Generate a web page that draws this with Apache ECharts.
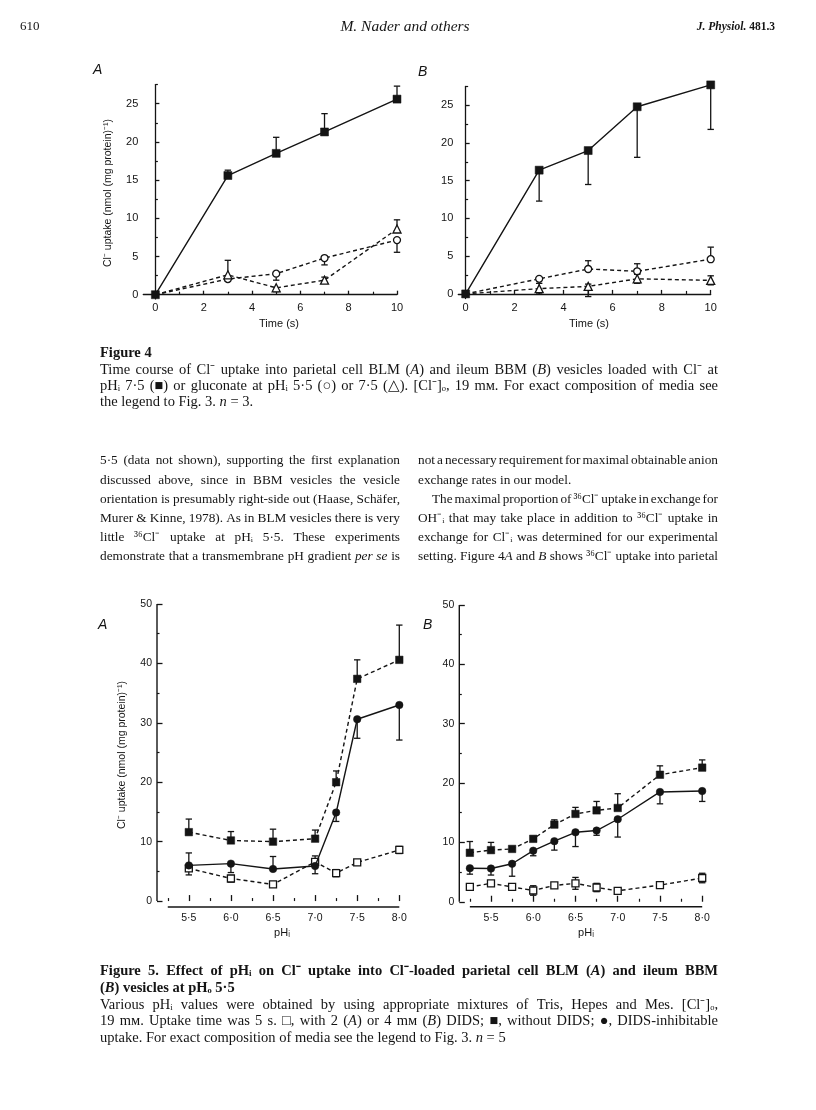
<!DOCTYPE html>
<html><head><meta charset="utf-8">
<script src="https://cdn.jsdelivr.net/npm/echarts@6.0.0/dist/echarts.min.js"></script>
<style>html,body{margin:0;padding:0;background:#fff}#c{width:816px;height:1110px}</style>
</head><body><div id="c"></div>
<script>
// ---------- DATA ----------
const time4 = [0, 3, 5, 7, 10];
// Figure 4A
const sq4A = [0, 15.6, 18.5, 21.3, 25.6];
const sq4AUp = [0, 0.7, 2.1, 2.4, 1.7];
const sq4ADn = [0, 0, 0, 0, 0];
const ci4A = [0, 2.05, 2.75, 4.8, 7.15];
const ci4AUp = [0, 0, 0, 0, 0];
const ci4ADn = [0, 0.3, 0.85, 0.9, 1.6];
const tr4A = [0, 2.6, 0.9, 1.9, 8.6];
const tr4AUp = [0, 1.9, 0, 0.4, 1.2];
const tr4ADn = [0, 0, 0.5, 0.4, 0];
// Figure 4B
const sq4B = [0, 16.4, 19.0, 24.8, 27.7];
const sq4BUp = [0, 0, 0, 0, 0];
const sq4BDn = [0, 4.1, 4.5, 6.7, 5.9];
const ci4B = [0, 2.0, 3.3, 3.0, 4.6];
const ci4BUp = [0, 0, 1.1, 1.0, 1.6];
const ci4BDn = [0, 0, 0, 0.3, 0];
const tr4B = [0, 0.7, 1.0, 2.0, 1.8];
const tr4BUp = [0, 0.7, 0.3, 0.6, 0.6];
const tr4BDn = [0, 0.7, 1.35, 0.6, 0.6];
// Figure 5A
const pH5A = [5.5, 6.0, 6.5, 7.0, 7.25, 7.5, 8.0];
const no5A = [11.6, 10.2, 10.0, 10.5, 20.0, 37.4, 40.6];
const no5AUp = [2.2, 1.5, 2.1, 1.45, 1.9, 3.2, 5.85];
const no5ADn = [0, 0, 0, 0, 0, 0, 0];
const in5A = [6.0, 6.3, 5.4, 5.9, 14.9, 30.6, 33.0];
const in5AUp = [2.1, 0, 2.1, 0, 0, 0, 0];
const in5ADn = [0, 1.5, 0, 1.3, 1.5, 3.2, 5.9];
const di5A = [5.5, 3.8, 2.8, 6.6, 4.7, 6.5, 8.6];
const di5AUp = [0, 0.5, 0, 1.0, 0.6, 0.3, 0.6];
const di5ADn = [1.1, 0.6, 0.3, 0, 0.6, 0.3, 0.6];
// Figure 5B
const pH5B = [5.25, 5.5, 5.75, 6.0, 6.25, 6.5, 6.75, 7.0, 7.5, 8.0];
const no5B = [8.25, 8.7, 8.9, 10.6, 13.0, 14.8, 15.4, 15.8, 21.4, 22.6];
const no5BUp = [1.9, 1.3, 0, 0, 0.8, 1.1, 1.5, 2.4, 1.5, 1.3];
const no5BDn = [0, 0, 0, 0, 0, 0, 0, 0, 0, 0];
const in5B = [5.65, 5.6, 6.4, 8.6, 10.2, 11.7, 12.0, 13.9, 18.5, 18.65];
const in5BUp = [0, 0, 0, 0, 0, 0, 0, 0, 0, 0];
const in5BDn = [1.0, 1.1, 2.1, 0.85, 1.5, 2.4, 0.8, 3.0, 2.0, 1.75];
const di5B = [2.5, 3.1, 2.5, 1.9, 2.75, 3.1, 2.4, 1.85, 2.8, 4.0];
const di5BErr = [0.3, 0.3, 0.3, 0.8, 0.4, 1.0, 0.7, 0.3, 0.4, 0.8];
// Tick labels
const t4XMajor = [0, 2, 4, 6, 8, 10];
const t4XMinor = [1, 3, 5, 7, 9];
const t4YMajor = [0, 5, 10, 15, 20, 25];
const t4YMinor = [2.5, 7.5, 12.5, 17.5, 22.5, 27.5];
const t5XMajor = [5.5, 6.0, 6.5, 7.0, 7.5, 8.0];
const t5XMinor = [5.25, 5.75, 6.25, 6.75, 7.25, 7.75];
const t5YMajor = [0, 10, 20, 30, 40, 50];
const t5YMinor = [5, 15, 25, 35, 45];

// ---------- LAYOUT ----------
const INK = '#141414';
const grids = [
  {left: 143.3, top: 84.6, width: 253.7, height: 214.3},
  {left: 458.3, top: 86.4, width: 252.4, height: 212.2},
  {left: 157, top: 604, width: 242.3, height: 303},
  {left: 459.3, top: 605, width: 242.9, height: 301.8}
];
const ranges = [
  {x: [-0.5, 10], y: [-0.55, 27.5]},
  {x: [-0.3, 10], y: [-0.62, 27.5]},
  {x: [5.122, 8.0], y: [-1.0, 50]},
  {x: [5.125, 8.0], y: [-0.85, 50]}
];
const sansF = '"Liberation Sans", Arial, sans-serif';
const serifF = '"Liberation Serif", "Times New Roman", serif';

const xAxes = [], yAxes = [];
function addAxes(gi, xMaj, xMin, yMaj, yMin, fig5) {
  const r = ranges[gi];
  const lab = fig5 ? (v => (+v).toFixed(1).replace('.', '·')) : (v => String(+v));
  const line = {show: !fig5, lineStyle: {color: INK, width: 1.3}};
  const fs = fig5 ? 10.5 : 11;
  xAxes.push({gridIndex: gi, type: 'value', min: r.x[0], max: r.x[1], position: 'bottom',
    axisLine: line, splitLine: {show: false},
    axisTick: {show: true, inside: true, length: fig5 ? 6 : 4, customValues: xMaj, lineStyle: {color: INK, width: 1.3}},
    axisLabel: {customValues: xMaj, formatter: lab,
      fontFamily: sansF, fontSize: fs, color: INK, margin: fig5 ? 6 : 4}});
  xAxes.push({gridIndex: gi, type: 'value', min: r.x[0], max: r.x[1], position: 'bottom',
    axisLine: {show: false}, splitLine: {show: false}, axisLabel: {show: false},
    axisTick: {show: true, inside: true, length: 3, customValues: xMin, lineStyle: {color: INK, width: 1.2}}});
  yAxes.push({gridIndex: gi, type: 'value', min: r.y[0], max: r.y[1], position: 'left',
    axisLine: line, splitLine: {show: false},
    axisTick: {show: true, inside: true, length: fig5 ? 5.5 : 4, customValues: yMaj, lineStyle: {color: INK, width: 1.3}},
    axisLabel: {customValues: yMaj, formatter: v => String(+v), fontFamily: sansF, fontSize: fs, color: INK, margin: 5}});
  yAxes.push({gridIndex: gi, type: 'value', min: r.y[0], max: r.y[1], position: 'left',
    axisLine: {show: false}, splitLine: {show: false}, axisLabel: {show: false},
    axisTick: {show: true, inside: true, length: 2.5, customValues: yMin, lineStyle: {color: INK, width: 1.2}}});
}
addAxes(0, t4XMajor, t4XMinor, t4YMajor, t4YMinor, false);
addAxes(1, t4XMajor, t4XMinor, t4YMajor, t4YMinor, false);
addAxes(2, t5XMajor, t5XMinor, t5YMajor, t5YMinor, true);
addAxes(3, t5XMajor, t5XMinor, t5YMajor, t5YMinor, true);

const series = [];
function pts(xs, ys, hideFirst) {
  return xs.map((x, i) => (hideFirst && i === 0) ? {value: [x, ys[i]], symbol: 'none'} : [x, ys[i]]);
}
function errRender(params, api) {
  const x = api.value(0), lo = api.value(1), hi = api.value(2), y = api.value(3);
  const a = api.coord([x, lo]), b = api.coord([x, hi]);
  const w = 3.2, st = {stroke: INK, lineWidth: 1.3};
  const ch = [{type: 'line', shape: {x1: a[0], y1: a[1], x2: b[0], y2: b[1]}, style: st}];
  if (hi > y) ch.push({type: 'line', shape: {x1: b[0] - w, y1: b[1], x2: b[0] + w, y2: b[1]}, style: st});
  if (lo < y) ch.push({type: 'line', shape: {x1: a[0] - w, y1: a[1], x2: a[0] + w, y2: a[1]}, style: st});
  return {type: 'group', children: ch};
}
function addErr(gi, xs, ys, up, dn) {
  const data = [];
  xs.forEach((x, i) => { if (up[i] > 0 || dn[i] > 0) data.push([x, ys[i] - dn[i], ys[i] + up[i], ys[i]]); });
  series.push({type: 'custom', xAxisIndex: 2 * gi, yAxisIndex: 2 * gi, renderItem: errRender,
    data: data, encode: {x: 0, y: [1, 2]}, clip: false, silent: true, z: 2});
}
function addLine(gi, xs, ys, sym, size, filled, dashed, hideFirst, z) {
  series.push({type: 'line', xAxisIndex: 2 * gi, yAxisIndex: 2 * gi, data: pts(xs, ys, hideFirst),
    symbol: sym, symbolSize: size, showAllSymbol: true, clip: false, silent: true, z: z || 3,
    itemStyle: filled ? {color: INK, borderColor: INK, borderWidth: 0.5} : {color: '#fff', borderColor: INK, borderWidth: 1.3},
    lineStyle: {color: INK, width: 1.4, type: dashed ? [4, 3] : 'solid'}});
}
function addAxisLine(gi, pairs) {
  series.push({type: 'line', xAxisIndex: 2 * gi, yAxisIndex: 2 * gi, data: pairs, symbol: 'none', clip: false,
    silent: true, z: 1, lineStyle: {color: INK, width: 1.4}});
}
// Fig 4A
addErr(0, time4, sq4A, sq4AUp, sq4ADn);
addErr(0, time4, ci4A, ci4AUp, ci4ADn);
addErr(0, time4, tr4A, tr4AUp, tr4ADn);
addLine(0, time4, ci4A, 'circle', 7, false, true, true);
addLine(0, time4, tr4A, 'triangle', 8, false, true, true);
addLine(0, time4, sq4A, 'rect', 8, true, false, false, 4);
// Fig 4B
addErr(1, time4, sq4B, sq4BUp, sq4BDn);
addErr(1, time4, ci4B, ci4BUp, ci4BDn);
addErr(1, time4, tr4B, tr4BUp, tr4BDn);
addLine(1, time4, ci4B, 'circle', 7, false, true, true);
addLine(1, time4, tr4B, 'triangle', 8, false, true, true);
addLine(1, time4, sq4B, 'rect', 8, true, false, false, 4);
// Fig 5A
const r5A = ranges[2], r5B = ranges[3];
addAxisLine(2, [[t5XMinor[0], r5A.y[0]], [t5XMajor[t5XMajor.length - 1], r5A.y[0]]]);
addAxisLine(2, [[r5A.x[0], t5YMajor[0]], [r5A.x[0], t5YMajor[t5YMajor.length - 1]]]);
addErr(2, pH5A, no5A, no5AUp, no5ADn);
addErr(2, pH5A, in5A, in5AUp, in5ADn);
addErr(2, pH5A, di5A, di5AUp, di5ADn);
addLine(2, pH5A, di5A, 'rect', 7, false, true, false);
addLine(2, pH5A, no5A, 'rect', 7.5, true, true, false);
addLine(2, pH5A, in5A, 'circle', 7.5, true, false, false, 4);
// Fig 5B
addAxisLine(3, [[t5XMinor[0], r5B.y[0]], [t5XMajor[t5XMajor.length - 1], r5B.y[0]]]);
addAxisLine(3, [[r5B.x[0], t5YMajor[0]], [r5B.x[0], t5YMajor[t5YMajor.length - 1]]]);
addErr(3, pH5B, no5B, no5BUp, no5BDn);
addErr(3, pH5B, in5B, in5BUp, in5BDn);
addErr(3, pH5B, di5B, di5BErr, di5BErr);
addLine(3, pH5B, di5B, 'rect', 7, false, true, false);
addLine(3, pH5B, no5B, 'rect', 7.5, true, true, false);
addLine(3, pH5B, in5B, 'circle', 7.5, true, false, false, 4);

// ---------- TEXT ----------
const ctx = document.createElement('canvas').getContext('2d');
function fontStr(st) {
  return (st.fontStyle || 'normal') + ' ' + (st.fontWeight || 'normal') + ' ' + st.fontSize + 'px ' + st.fontFamily;
}
function richFor(base) {
  return {
    i: {fontStyle: 'italic', fontWeight: base.fontWeight || 'normal', fontSize: base.fontSize, fontFamily: base.fontFamily, fill: INK},
    b: {fontStyle: base.fontStyle || 'normal', fontWeight: 'bold', fontSize: base.fontSize, fontFamily: base.fontFamily, fill: INK}
  };
}
function measureWord(word, base) {
  const rich = richFor(base);
  let w = 0; const re = /\{(\w+)\|([^}]*)\}|([^{]+)/g; let m;
  while ((m = re.exec(word))) {
    if (m[3] !== undefined) { ctx.font = fontStr(base); w += ctx.measureText(m[3]).width; }
    else { ctx.font = fontStr(Object.assign({}, base, rich[m[1]])); w += ctx.measureText(m[2]).width; }
  }
  return w;
}
const graphics = [];
function textEl(str, x, y, base, extra) {
  const el = Object.assign({type: 'text', x: x, y: y, silent: true,
    style: Object.assign({text: str, fill: INK, align: 'left', verticalAlign: 'middle', rich: richFor(base)}, base)}, extra || {});
  graphics.push(el);
  return el;
}
// justified line: words spread from x0 to x1
function justLine(str, x0, x1, y, base, justify) {
  const words = str.split(' ');
  ctx.font = fontStr(base);
  const space = ctx.measureText(' ').width;
  const ws = words.map(w => measureWord(w, base));
  const sum = ws.reduce((a, b) => a + b, 0);
  const target = x1 - x0;
  let gap = space, sx = 1;
  if (justify && words.length > 1) gap = (target - sum) / (words.length - 1);
  if (gap < space * 0.6) { gap = space * 0.6; sx = Math.min(1, target / (sum + gap * (words.length - 1))); }
  let x = x0;
  words.forEach((w, i) => {
    textEl(w, x, y, base, sx < 1 ? {scaleX: sx} : null);
    x += (ws[i] + gap) * sx;
  });
}
const body = {fontFamily: serifF, fontSize: 13.3};
const cap = {fontFamily: serifF, fontSize: 14.5};
const capB = {fontFamily: serifF, fontSize: 14.5, fontWeight: 'bold'};

// header
textEl('610', 20, 27, {fontFamily: serifF, fontSize: 13});
textEl('M. Nader and others', 405, 27, {fontFamily: serifF, fontSize: 15.5, fontStyle: 'italic'}, null).style.align = 'center';
textEl('{i|J. Physiol.} 481.3', 775, 27, {fontFamily: serifF, fontSize: 11.5, fontWeight: 'bold'}).style.align = 'right';

// panel letters
const letter = {fontFamily: sansF, fontSize: 14, fontStyle: 'italic'};
textEl('A', 93, 70, letter);
textEl('B', 418, 72, letter);
textEl('A', 98, 625, letter);
textEl('B', 423, 625, letter);

// axis titles
const axT = {fontFamily: sansF, fontSize: 11};
textEl('Time (s)', 279, 324, axT).style.align = 'center';
textEl('Time (s)', 589, 324, axT).style.align = 'center';
textEl('pHᵢ', 282, 933, axT).style.align = 'center';
textEl('pHᵢ', 586, 933, axT).style.align = 'center';
const yt1 = textEl('Cl⁻ uptake (nmol (mg protein)⁻¹)', 108, 193, {fontFamily: sansF, fontSize: 10.5}, {rotation: Math.PI / 2});
yt1.style.align = 'center';
const yt2 = textEl('Cl⁻ uptake (nmol (mg protein)⁻¹)', 122, 755, {fontFamily: sansF, fontSize: 10.5}, {rotation: Math.PI / 2});
yt2.style.align = 'center';

// Figure 4 caption
const capL = 100, capR = 718;
textEl('Figure 4', capL, 353, capB);
justLine('Time course of Cl⁻ uptake into parietal cell BLM ({i|A}) and ileum BBM ({i|B}) vesicles loaded with Cl⁻ at', capL, capR, 370, cap, true);
justLine('pHᵢ 7·5 (■) or gluconate at pHᵢ 5·5 (○) or 7·5 (△). [Cl⁻]ₒ, 19 mᴍ. For exact composition of media see', capL, capR, 386, cap, true);
justLine('the legend to Fig. 3. {i|n} = 3.', capL, capR, 402, cap, false);

// body text columns
const leftCol = [
  '5·5 (data not shown), supporting the first explanation',
  'discussed above, since in BBM vesicles the vesicle',
  'orientation is presumably right-side out (Haase, Schäfer,',
  'Murer & Kinne, 1978). As in BLM vesicles there is very',
  'little ³⁶Cl⁻ uptake at pHᵢ 5·5. These experiments',
  'demonstrate that a transmembrane pH gradient {i|per} {i|se} is'
];
const rightCol = [
  'not a necessary requirement for maximal obtainable anion',
  'exchange rates in our model.',
  'The maximal proportion of ³⁶Cl⁻ uptake in exchange for',
  'OH⁻ᵢ that may take place in addition to ³⁶Cl⁻ uptake in',
  'exchange for Cl⁻ᵢ was determined for our experimental',
  'setting. Figure 4{i|A} and {i|B} shows ³⁶Cl⁻ uptake into parietal'
];
const lineY = [461, 480.5, 500, 519, 538, 557];
leftCol.forEach((s, i) => justLine(s, 100, 400, lineY[i], body, true));
rightCol.forEach((s, i) => justLine(s, i === 2 ? 432 : 418, 718, lineY[i], body, i !== 1));

// Figure 5 caption
justLine('Figure 5. Effect of pHᵢ on Cl⁻ uptake into Cl⁻-loaded parietal cell BLM ({i|A}) and ileum BBM', capL, capR, 971, capB, true);
justLine('({i|B}) vesicles at pHₒ 5·5', capL, capR, 988, capB, false);
justLine('Various pHᵢ values were obtained by using appropriate mixtures of Tris, Hepes and Mes. [Cl⁻]ₒ,', capL, capR, 1005, cap, true);
justLine('19 mᴍ. Uptake time was 5 s. □, with 2 ({i|A}) or 4 mᴍ ({i|B}) DIDS; ■, without DIDS; ●, DIDS-inhibitable', capL, capR, 1021, cap, true);
justLine('uptake. For exact composition of media see the legend to Fig. 3. {i|n} = 5', capL, capR, 1038, cap, false);

const chart = echarts.init(document.getElementById('c'), null, {renderer: 'canvas'});
chart.setOption({
  backgroundColor: '#fff',
  animation: false,
  grid: grids,
  xAxis: xAxes,
  yAxis: yAxes,
  series: series,
  graphic: graphics
});
</script>
</body></html>
